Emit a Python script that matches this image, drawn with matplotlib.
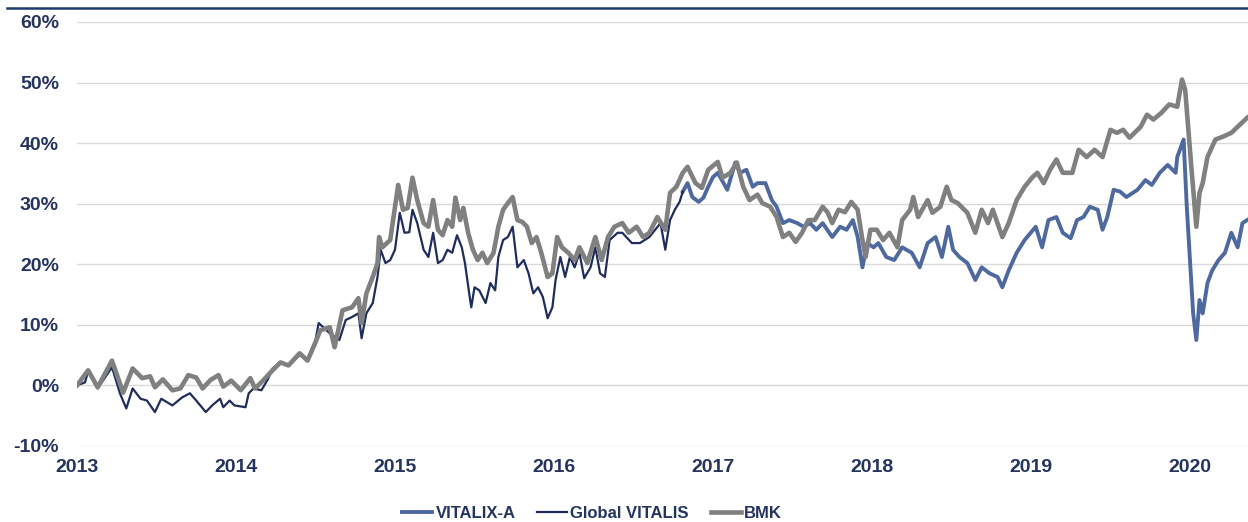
import matplotlib
matplotlib.use("Agg")
import matplotlib.pyplot as plt
from matplotlib.lines import Line2D
from matplotlib.ticker import FuncFormatter

# --- data (decimal year, cumulative return in %) ---
bmk_t = [2013.00, 2013.07, 2013.13, 2013.22, 2013.29, 2013.35, 2013.41, 2013.46, 2013.49, 2013.54,
         2013.60, 2013.65, 2013.70, 2013.75, 2013.79, 2013.84, 2013.89, 2013.92, 2013.97, 2014.03,
         2014.09, 2014.12, 2014.17, 2014.23, 2014.28, 2014.33, 2014.40, 2014.45, 2014.50, 2014.53,
         2014.59, 2014.62, 2014.67, 2014.73, 2014.77, 2014.79, 2014.82, 2014.86, 2014.89, 2014.90,
         2014.92, 2014.97, 2015.02, 2015.05, 2015.08, 2015.11, 2015.14, 2015.18, 2015.21, 2015.24,
         2015.27, 2015.30, 2015.33, 2015.36, 2015.38, 2015.41, 2015.43, 2015.46, 2015.49, 2015.52,
         2015.55, 2015.58, 2015.62, 2015.65, 2015.68, 2015.71, 2015.74, 2015.77, 2015.80, 2015.83,
         2015.86, 2015.89, 2015.92, 2015.96, 2015.99, 2016.02, 2016.05, 2016.09, 2016.13, 2016.16,
         2016.21, 2016.26, 2016.30, 2016.34, 2016.38, 2016.43, 2016.47, 2016.52, 2016.56, 2016.60,
         2016.65, 2016.70, 2016.73, 2016.77, 2016.81, 2016.84, 2016.89, 2016.93, 2016.97, 2017.03,
         2017.06, 2017.11, 2017.15, 2017.19, 2017.23, 2017.28, 2017.31, 2017.36, 2017.40, 2017.44,
         2017.48, 2017.52, 2017.56, 2017.60, 2017.64, 2017.69, 2017.72, 2017.75, 2017.79, 2017.83,
         2017.87, 2017.91, 2017.94, 2017.96, 2017.99, 2018.03, 2018.07, 2018.11, 2018.16, 2018.19,
         2018.24, 2018.26, 2018.29, 2018.35, 2018.38, 2018.43, 2018.47, 2018.50, 2018.54, 2018.60,
         2018.65, 2018.69, 2018.73, 2018.76, 2018.82, 2018.86, 2018.91, 2018.96, 2019.01, 2019.04,
         2019.08, 2019.12, 2019.16, 2019.20, 2019.26, 2019.30, 2019.35, 2019.40, 2019.45, 2019.50,
         2019.54, 2019.58, 2019.62, 2019.69, 2019.73, 2019.77, 2019.82, 2019.87, 2019.92, 2019.95,
         2019.97, 2019.99, 2020.01, 2020.04, 2020.06, 2020.08, 2020.11, 2020.16, 2020.21, 2020.26,
         2020.30, 2020.36]
bmk_v = [0.0, 2.5, -0.3, 4.1, -1.2, 2.8, 1.2, 1.5, -0.3, 1.0,
         -0.8, -0.5, 1.7, 1.3, -0.5, 0.9, 1.7, -0.2, 0.8, -0.8,
         1.2, -0.5, 0.8, 2.5, 3.8, 3.3, 5.3, 4.1, 7.1, 9.1,
         9.6, 6.3, 12.4, 12.9, 14.4, 10.3, 15.2, 17.9, 20.2, 24.5,
         22.8, 24.0, 33.1, 29.0, 29.3, 34.3, 30.6, 26.8, 26.2, 30.6,
         25.7, 24.8, 27.3, 26.2, 31.0, 27.3, 29.3, 25.2, 22.4, 20.7,
         21.9, 20.2, 21.9, 26.2, 29.0, 30.1, 31.1, 27.3, 27.0, 26.2,
         23.5, 24.5, 21.9, 17.9, 18.5, 24.5, 22.8, 21.9, 20.7, 22.8,
         20.2, 24.5, 20.7, 24.5, 26.2, 26.8, 25.2, 26.2, 24.5, 25.2,
         27.8, 25.7, 31.8, 32.8, 35.1, 36.1, 33.4, 32.6, 35.6, 36.9,
         34.3, 35.1, 36.8, 32.8, 30.6, 31.5, 30.1, 29.5, 27.8, 24.5,
         25.2, 23.7, 25.2, 27.3, 27.3, 29.5, 28.6, 26.8, 29.0, 28.6,
         30.3, 29.0, 24.0, 21.2, 25.7, 25.7, 24.0, 25.2, 22.8, 27.3,
         29.0, 31.1, 27.8, 30.6, 28.5, 29.5, 32.8, 30.6, 30.1, 28.5,
         25.2, 29.0, 26.8, 29.0, 24.5, 26.8, 30.6, 32.8, 34.4, 35.1,
         33.4, 35.6, 37.3, 35.1, 35.1, 38.9, 37.7, 38.9, 37.7, 42.2,
         41.7, 42.2, 40.9, 42.7, 44.7, 43.9, 45.0, 46.4, 46.0, 50.5,
         48.8, 42.2, 35.6, 26.2, 31.8, 33.4, 37.7, 40.6, 41.1, 41.7,
         42.7, 44.2]

glob_t = [2013.00, 2013.05, 2013.07, 2013.13, 2013.22, 2013.27, 2013.31, 2013.35, 2013.40, 2013.44,
          2013.49, 2013.53, 2013.60, 2013.66, 2013.71, 2013.75, 2013.81, 2013.85, 2013.90, 2013.92,
          2013.96, 2013.99, 2014.06, 2014.08, 2014.11, 2014.16, 2014.20, 2014.23, 2014.28, 2014.33,
          2014.40, 2014.45, 2014.50, 2014.52, 2014.59, 2014.65, 2014.69, 2014.73, 2014.77, 2014.79,
          2014.82, 2014.86, 2014.89, 2014.91, 2014.94, 2014.97, 2015.00, 2015.03, 2015.06, 2015.09,
          2015.11, 2015.14, 2015.18, 2015.21, 2015.24, 2015.27, 2015.30, 2015.33, 2015.36, 2015.39,
          2015.42, 2015.44, 2015.47, 2015.48, 2015.50, 2015.53, 2015.57, 2015.60, 2015.63, 2015.65,
          2015.68, 2015.71, 2015.74, 2015.77, 2015.81, 2015.84, 2015.87, 2015.90, 2015.93, 2015.96,
          2015.99, 2016.01, 2016.04, 2016.07, 2016.10, 2016.13, 2016.16, 2016.19, 2016.23, 2016.26,
          2016.29, 2016.32, 2016.35, 2016.40, 2016.43, 2016.49, 2016.54, 2016.60, 2016.67, 2016.70,
          2016.73, 2016.76, 2016.79, 2016.81]
glob_v = [0.0, 0.5, 2.3, -0.5, 3.0, -1.3, -3.8, -0.5, -2.2, -2.5,
          -4.4, -2.2, -3.3, -2.0, -1.3, -2.5, -4.4, -3.3, -2.2, -3.6,
          -2.5, -3.3, -3.6, -1.3, -0.5, -0.8, 1.0, 2.8, 3.8, 3.3,
          5.0, 4.3, 7.5, 10.3, 8.6, 7.5, 10.8, 11.3, 11.9, 7.8,
          11.9, 13.6, 17.9, 22.4, 20.2, 20.7, 22.4, 28.5, 25.2, 25.3,
          29.0, 26.8, 22.4, 21.2, 25.2, 20.2, 20.7, 22.4, 21.9, 24.8,
          22.8, 20.2, 14.6, 12.9, 16.2, 15.7, 13.6, 16.9, 15.7, 21.2,
          24.0, 24.5, 26.2, 19.5, 20.7, 18.5, 15.2, 16.2, 14.6, 11.1,
          12.9, 17.4, 21.2, 17.9, 21.2, 19.5, 21.9, 17.7, 19.5, 22.8,
          18.5, 17.9, 24.0, 25.2, 25.2, 23.5, 23.5, 24.5, 26.8, 22.4,
          27.3, 29.0, 30.3, 32.0]

vit_t = [2016.81, 2016.84, 2016.87, 2016.91, 2016.94, 2016.97, 2017.00, 2017.03, 2017.09, 2017.14,
         2017.17, 2017.21, 2017.25, 2017.28, 2017.33, 2017.37, 2017.40, 2017.44, 2017.48, 2017.53,
         2017.57, 2017.61, 2017.65, 2017.69, 2017.75, 2017.80, 2017.84, 2017.88, 2017.91, 2017.94,
         2017.97, 2018.01, 2018.04, 2018.09, 2018.14, 2018.19, 2018.25, 2018.30, 2018.35, 2018.40,
         2018.44, 2018.48, 2018.51, 2018.55, 2018.60, 2018.65, 2018.69, 2018.74, 2018.79, 2018.82,
         2018.86, 2018.91, 2018.96, 2019.03, 2019.07, 2019.11, 2019.16, 2019.20, 2019.25, 2019.29,
         2019.33, 2019.37, 2019.42, 2019.45, 2019.48, 2019.52, 2019.56, 2019.60, 2019.67, 2019.72,
         2019.76, 2019.81, 2019.86, 2019.91, 2019.92, 2019.96, 2019.98, 2020.00, 2020.02, 2020.04,
         2020.06, 2020.08, 2020.11, 2020.14, 2020.18, 2020.22, 2020.26, 2020.30, 2020.33, 2020.36]
vit_v = [32.0, 33.4, 31.1, 30.3, 31.0, 32.8, 34.4, 35.1, 32.3, 36.8,
         35.1, 35.6, 32.8, 33.4, 33.4, 30.6, 29.5, 26.8, 27.3, 26.8,
         26.2, 26.8, 25.7, 26.8, 24.5, 26.2, 25.7, 27.3, 24.5, 19.5,
         23.5, 22.8, 23.5, 21.2, 20.7, 22.8, 21.9, 19.5, 23.5, 24.5,
         21.2, 26.2, 22.4, 21.2, 20.2, 17.4, 19.5, 18.5, 17.9, 16.2,
         19.0, 21.9, 24.0, 26.2, 22.8, 27.3, 27.8, 25.2, 24.3, 27.3,
         27.8, 29.5, 29.0, 25.7, 27.8, 32.3, 32.0, 31.1, 32.3, 33.9,
         33.1, 35.1, 36.4, 35.1, 37.7, 40.6, 29.5, 20.7, 11.9, 7.5,
         14.1, 11.9, 16.9, 19.0, 20.7, 21.9, 25.2, 22.8, 26.8, 27.3]

years = [2013, 2014, 2015, 2016, 2017, 2018, 2019, 2020]
yticks = [-10, 0, 10, 20, 30, 40, 50, 60]

navy = "#1f2c5c"
text_col = "#25335f"

plt.rcParams["font.family"] = ["Liberation Sans", "DejaVu Sans"]

fig = plt.figure(figsize=(12.48, 5.22), dpi=100)
ax = fig.add_axes([77 / 1248, 1 - 446 / 522, 1 - 77 / 1248, 424 / 522])

ax.plot(vit_t, vit_v, color="#4e69a0", lw=2.8, label="VITALIX-A", zorder=3)
ax.plot(glob_t, glob_v, color=navy, lw=1.6, label="Global VITALIS", zorder=4)
ax.plot(bmk_t, bmk_v, color="#808080", lw=3.3, label="BMK", zorder=5)

ax.set_xlim(2013, 2020.365)
ax.set_ylim(-10, 60)
ax.set_xticks(years)
ax.set_xticklabels([str(y) for y in years])
ax.set_yticks(yticks)
ax.yaxis.set_major_formatter(FuncFormatter(lambda v, p: f"{v:.0f}%"))

ax.grid(axis="y", color="#d9d9d9", lw=1.0, zorder=0)
ax.set_axisbelow(True)
for s in ax.spines.values():
    s.set_visible(False)
ax.tick_params(length=0, labelsize=14, labelcolor=text_col)
ax.tick_params(axis="y", pad=13)
ax.tick_params(axis="x", pad=9)
for lbl in ax.get_xticklabels() + ax.get_yticklabels():
    lbl.set_fontweight("bold")

# dark header rule along the top
fig.add_artist(Line2D([7 / 1248, 1.0], [1 - 8 / 522, 1 - 8 / 522], color="#1f3a6e", lw=1.8))

leg = fig.legend(loc="center", bbox_to_anchor=(592 / 1248, 1 - 513 / 522), ncol=3, frameon=False,
                 fontsize=12, handlelength=1.8, handletextpad=0.2, columnspacing=1.3,
                 borderaxespad=0, borderpad=0)
for t in leg.get_texts():
    t.set_color(text_col)
    t.set_fontweight("bold")

fig.savefig("out.png", dpi=100)
